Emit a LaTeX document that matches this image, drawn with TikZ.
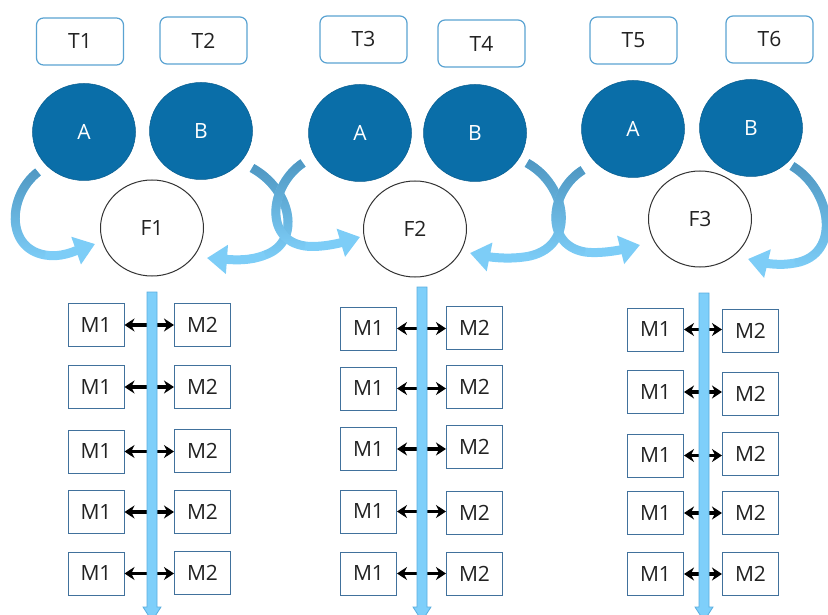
\documentclass[tikz,border=0pt]{standalone}
\usepackage{fontspec}
\setmainfont{Open Sans}
\usetikzlibrary{shapes.geometric,arrows.meta,fadings}
\definecolor{dblue}{HTML}{0A6EA8}
\definecolor{tborder}{HTML}{5AA3D2}
\definecolor{mborder}{HTML}{41719C}
\definecolor{arlight}{HTML}{7DCDF7}
\definecolor{ardark}{HTML}{4F97C2}
\definecolor{barfill}{HTML}{7ECFFA}
\definecolor{barline}{HTML}{5AAEDF}
\definecolor{txt}{HTML}{222222}
\begin{document}
\begin{tikzpicture}[x=1pt,y=-1pt,
  lbl/.style={font=\fontsize{21}{25}\selectfont},
  tbox/.style={lbl, draw=tborder, line width=1.2pt, rounded corners=7pt, fill=white,
    minimum width=87pt, minimum height=47pt, text=txt},
  abnode/.style={lbl, ellipse, fill=dblue, draw=dblue!85!black, line width=0.5pt,
    minimum width=103pt, minimum height=97pt, text=white},
  fnode/.style={lbl, ellipse, draw=black!80, line width=1pt, fill=white,
    minimum width=103pt, minimum height=96pt, text=txt},
  mbox/.style={lbl, draw=mborder, line width=1pt, fill=white,
    minimum width=56pt, minimum height=43pt, text=txt},
  link/.style={draw=black, line width=3.6pt, {Stealth[length=10pt,width=13pt]}-{Stealth[length=10pt,width=13pt]}},
  curv/.style={arlight, line width=9pt, -{Triangle[length=20pt,width=28pt]}},
  curvd/.style={ardark, line width=9pt, path fading=south},
  bar/.style={fill=barfill, draw=barline, line width=0.8pt},
]
\useasboundingbox (0,0) rectangle (828,615);
\clip (0,0) rectangle (828,615);

% top labels
\node[tbox] (t1) at (80,41.5) {T1};
\node[tbox] (t2) at (203.5,40.5) {T2};
\node[tbox] (t3) at (363.5,39.5) {T3};
\node[tbox] (t4) at (481.5,43.5) {T4};
\node[tbox] (t5) at (633.5,40.5) {T5};
\node[tbox] (t6) at (769.5,39.5) {T6};

% A / B circles
\node[abnode] (a1) at (84,132) {A};
\node[abnode] (b1) at (201,131) {B};
\node[abnode] (a2) at (360,133) {A};
\node[abnode] (b2) at (475,133) {B};
\node[abnode] (a3) at (633,129) {A};
\node[abnode] (b3) at (751,128) {B};

% curved arrows
\coordinate (s1) at (38,172);  \coordinate (e1) at (95,244);
\coordinate (s2) at (252,168); \coordinate (e2) at (207,258);
\coordinate (s3) at (303,163); \coordinate (e3) at (360,237);
\coordinate (s4) at (527,163); \coordinate (e4) at (470,253);
\coordinate (s5) at (583,170); \coordinate (e5) at (640,245);
\coordinate (s6) at (792,166); \coordinate (e6) at (748,259);

\draw[curv] (s1) .. controls (8,195) and (5,248) .. (45,255) .. controls (60,258) and (75,251) .. (e1);
\draw[curvd] (s1) .. controls (8,195) and (5,248) .. (45,255);
\draw[curv] (s2) .. controls (292,190) and (302,242) .. (265,255) .. controls (250,261) and (235,260) .. (e2);
\draw[curvd] (s2) .. controls (292,190) and (302,242) .. (265,255);
\draw[curv] (s3) .. controls (270,185) and (263,240) .. (305,246) .. controls (320,248) and (340,243) .. (e3);
\draw[curvd] (s3) .. controls (270,185) and (263,240) .. (305,246);
\draw[curv] (s4) .. controls (567,185) and (577,245) .. (530,256) .. controls (510,260) and (490,257) .. (e4);
\draw[curvd] (s4) .. controls (567,185) and (577,245) .. (530,256);
\draw[curv] (s5) .. controls (550,190) and (543,245) .. (585,252) .. controls (600,254) and (620,250) .. (e5);
\draw[curvd] (s5) .. controls (550,190) and (543,245) .. (585,252);
\draw[curv] (s6) .. controls (832,190) and (842,255) .. (795,263) .. controls (780,266) and (765,263) .. (e6);
\draw[curvd] (s6) .. controls (832,190) and (842,255) .. (795,263);

% F circles
\node[fnode] (f1) at (152,228) {F1};
\node[fnode] (f2) at (415,229) {F2};
\node[fnode] (f3) at (700,219) {F3};

% M boxes, column 1
\foreach \r/\ya/\yb in {1/325/324.5, 2/387/387, 3/451.5/450.5, 4/512/512, 5/573.5/572.5}{
  \node[mbox] (p\r) at (96,\ya) {M1};
  \node[mbox] (q\r) at (202.5,\yb) {M2};
  \draw[link] (p\r.east) -- (p\r.east -| q\r.west);
}
% column 2
\foreach \r/\ya/\yb in {1/328.5/328, 2/388.5/386.5, 3/449/446.5, 4/511.5/512.5, 5/573.5/573.5}{
  \node[mbox] (u\r) at (368.5,\ya) {M1};
  \node[mbox] (v\r) at (474.5,\yb) {M2};
  \draw[link] (u\r.east) -- (u\r.east -| v\r.west);
}
% column 3
\foreach \r/\ya/\yb in {1/329.5/331, 2/392/393.5, 3/455.5/454, 4/513/513, 5/574/573.5}{
  \node[mbox] (w\r) at (655.5,\ya) {M1};
  \node[mbox] (z\r) at (750.5,\yb) {M2};
  \draw[link] (w\r.east) -- (w\r.east -| z\r.west);
}

% vertical bars
\draw[bar] (147,292) -- (157,292) -- (157,607) -- (161,607) -- (152,621) -- (143,607) -- (147,607) -- cycle;
\draw[bar] (417,287) -- (427,287) -- (427,607) -- (431,607) -- (422,621) -- (413,607) -- (417,607) -- cycle;
\draw[bar] (699,293) -- (709,293) -- (709,607) -- (713,607) -- (704,621) -- (695,607) -- (699,607) -- cycle;
\end{tikzpicture}
\end{document}
